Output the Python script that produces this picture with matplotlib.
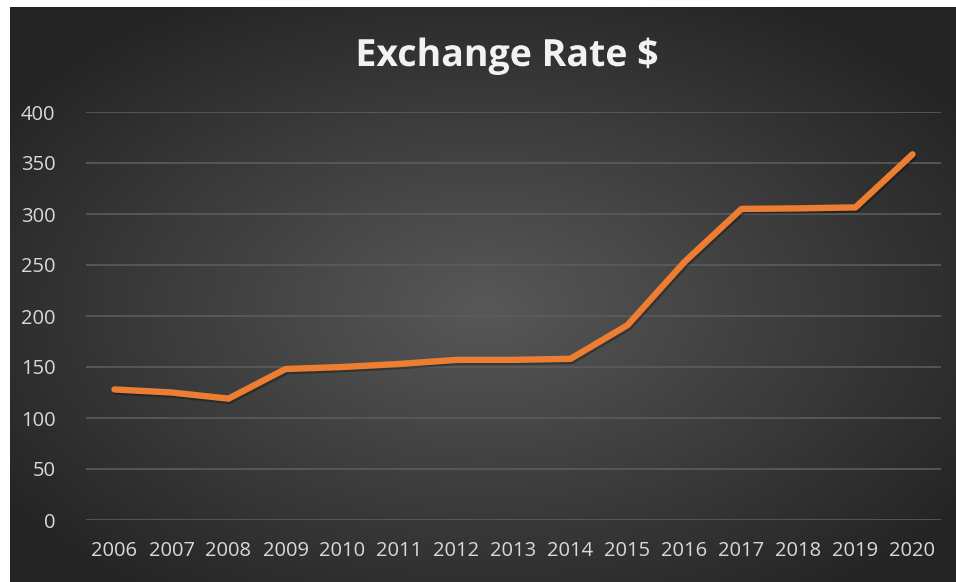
import numpy as np
import matplotlib
matplotlib.use("Agg")
import matplotlib.pyplot as plt
import matplotlib.patheffects as pe

years = ["2006", "2007", "2008", "2009", "2010", "2011", "2012", "2013",
         "2014", "2015", "2016", "2017", "2018", "2019", "2020"]
rates = [128, 125, 119, 148, 150, 153, 157, 157, 158, 191, 253, 305, 305.5, 306.5, 358.5]
yticks = [0, 50, 100, 150, 200, 250, 300, 350, 400]
title = "Exchange Rate $"

W, H = 956, 582
fig = plt.figure(figsize=(W / 100, H / 100), dpi=100, facecolor="white")

# background panel with radial gradient
bg = fig.add_axes([10 / W, 0, (W - 10) / W, (H - 7) / H])
bg.set_axis_off()
ny, nx = 300, 500
yy, xx = np.mgrid[0:ny, 0:nx]
cx, cy = nx * 0.5, ny * 0.52
r = np.sqrt(((xx - cx) / (nx * 0.62)) ** 2 + ((yy - cy) / (ny * 0.62)) ** 2)
r = np.clip(r, 0, 1)
inner = np.array([0x58, 0x58, 0x58]) / 255
outer = np.array([0x24, 0x24, 0x24]) / 255
img = inner[None, None, :] * (1 - r[..., None]) + outer[None, None, :] * r[..., None]
bg.imshow(img, aspect="auto", extent=[0, 1, 0, 1], interpolation="bilinear")
bg.set_xlim(0, 1)
bg.set_ylim(0, 1)

left, right = 86 / W, 941 / W
bottom, top = (H - 520) / H, (H - 112) / H
ax = fig.add_axes([left, bottom, right - left, top - bottom])
ax.patch.set_alpha(0)
x = np.arange(len(years))
ax.plot(x, rates, color="#ED7D31", lw=4.6, solid_capstyle="round", solid_joinstyle="round",
        path_effects=[pe.SimpleLineShadow(offset=(1, -1.5), shadow_color="black", alpha=0.3),
                      pe.Normal()], zorder=3)
ax.set_xlim(-0.5, len(years) - 0.5)
ax.set_ylim(0, 400)
ax.set_yticks(yticks)
ax.set_xticks(x)
ax.set_xticklabels(years)
for s in ax.spines.values():
    s.set_visible(False)
ax.grid(axis="y", color="#5c5c5c", lw=1.2, zorder=0)
ax.tick_params(length=0, colors="#D9D9D9", labelsize=14.5)
ax.tick_params(axis="y", pad=22)
ax.tick_params(axis="x", pad=15)
for lab in ax.get_xticklabels() + ax.get_yticklabels():
    lab.set_fontfamily("Open Sans")
    lab.set_color("#D9D9D9")

fig.text(507 / W, (H - 56) / H, title, ha="center", va="center", fontsize=27,
         fontweight="bold", family="Open Sans", color="#F2F2F2",
         path_effects=[pe.SimpleLineShadow(offset=(1, -1.5), shadow_color="black", alpha=0.3),
                       pe.Normal()])

fig.savefig("out.png", dpi=100, facecolor="white")
